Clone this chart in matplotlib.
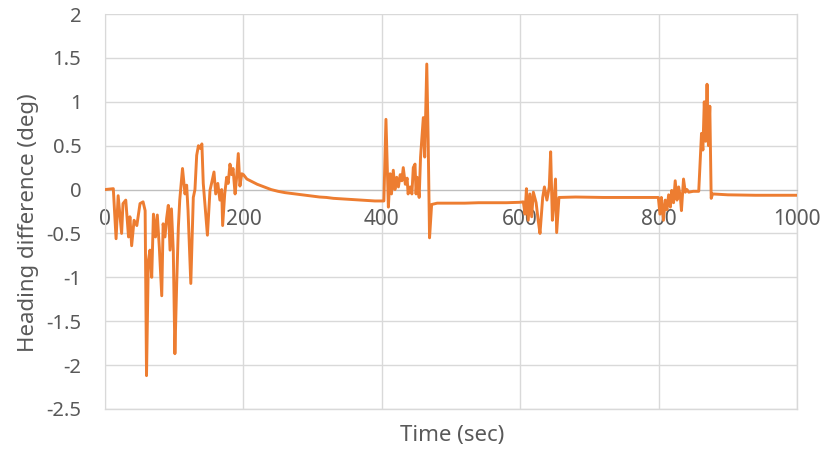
import matplotlib
matplotlib.use("Agg")
import matplotlib.pyplot as plt
import numpy as np

# ---- data ----
t_seg1 = [0, 12, 16, 19, 24, 26, 30, 34, 36, 38.5, 42, 46, 50.6, 55, 58, 60, 62.6, 65, 67.5,
          70, 73, 75.6, 78.5, 82, 84, 86.7, 89, 91.5, 94, 96, 98.7, 101, 103.6, 106, 108,
          112, 115.6, 118, 120, 124, 127.6, 130, 132.5, 135, 137.5, 140, 142, 148, 151.7,
          154, 157.5, 160, 163, 166, 168.6, 170, 173, 175.8, 178, 180.6, 183, 185, 188,
          190, 192.6, 195, 197.6, 200]
y_seg1 = [0.0, 0.01, -0.56, -0.07, -0.5, -0.16, -0.12, -0.54, -0.31, -0.64, -0.35, -0.41,
          -0.16, -0.14, -0.24, -2.12, -0.81, -0.69, -1.0, -0.28, -0.54, -0.29, -0.66, -1.21,
          -0.39, -0.54, -0.33, -0.18, -0.69, -0.22, -0.7, -1.87, -1.07, -0.43, -0.12, 0.24,
          -0.05, 0.05, -0.24, -1.07, -0.09, 0.0, 0.39, 0.5, 0.47, 0.52, 0.07, -0.52, -0.01,
          0.07, 0.2, -0.05, 0.07, -0.12, 0.0, -0.41, -0.05, 0.14, 0.07, 0.29, 0.17, 0.24,
          -0.05, 0.12, 0.41, 0.04, 0.18, 0.17]

t_seg2 = [205, 210, 220, 230, 240, 250, 260, 270, 280, 290, 300, 310, 320, 330, 340, 350,
          360, 370, 380, 390, 400]
y_seg2 = [0.12, 0.1, 0.06, 0.03, 0.0, -0.02, -0.035, -0.045, -0.055, -0.065, -0.075,
          -0.085, -0.09, -0.1, -0.105, -0.11, -0.115, -0.12, -0.125, -0.13, -0.13]

t_seg3 = [403, 406, 409.5, 412, 414, 416.6, 419, 421.5, 424, 426.6, 429, 431, 434, 436.6,
          438, 441, 443.5, 445.5, 448, 449.5, 451, 454, 456, 458.6, 460, 462, 465, 467,
          469, 472, 480, 500, 520, 540, 560, 580, 600]
y_seg3 = [-0.13, 0.8, -0.2, 0.18, -0.05, 0.22, 0.0, 0.14, 0.03, 0.17, 0.1, 0.25, 0.06,
          0.13, -0.05, 0.03, -0.05, 0.25, 0.29, -0.05, 0.14, -0.09, 0.37, 0.67, 0.82, 0.37,
          1.43, 0.56, -0.55, -0.17, -0.155, -0.155, -0.155, -0.15, -0.15, -0.15, -0.145]

t_seg4 = [604.5, 607, 609, 611.6, 614, 616.6, 619, 623, 626, 628.6, 632.5, 635, 638.6, 642,
          644, 646.5, 649, 651, 652.7, 656, 680, 720, 760, 799.6]
y_seg4 = [-0.14, -0.28, 0.01, -0.35, -0.05, -0.31, -0.03, -0.15, -0.35, -0.5, -0.09, 0.03,
          -0.12, 0.03, 0.43, -0.35, -0.12, 0.12, -0.49, -0.09, -0.085, -0.09, -0.09, -0.09]

t_seg5 = [802, 804, 807, 809.6, 812, 814.5, 817, 819, 821.6, 824, 826.6, 829, 831.5, 833,
          836, 838.6, 841, 843.5, 850, 858, 860, 862, 864, 866, 868, 870, 872, 874, 876,
          878, 900, 940, 970, 1000]
y_seg5 = [-0.28, -0.09, -0.35, -0.12, -0.23, -0.06, -0.2, -0.01, -0.15, 0.1, -0.12, 0.03,
          -0.09, -0.24, 0.12, -0.03, 0.0, -0.03, -0.02, -0.02, 0.3, 0.64, 0.45, 1.0, 0.55,
          1.2, 0.5, 0.95, -0.1, -0.05, -0.06, -0.065, -0.065, -0.065]

x_ticks = [0, 200, 400, 600, 800, 1000]
y_ticks = [-2.5, -2, -1.5, -1, -0.5, 0, 0.5, 1, 1.5, 2]
y_tick_labels = ["-2.5", "-2", "-1.5", "-1", "-0.5", "0", "0.5", "1", "1.5", "2"]

time = np.array(t_seg1 + t_seg2 + t_seg3 + t_seg4 + t_seg5)
heading = np.array(y_seg1 + y_seg2 + y_seg3 + y_seg4 + y_seg5)

# ---- styling ----
plt.rcParams['font.family'] = ['Noto Sans', 'DejaVu Sans']
text_color = '#595959'
grid_color = '#D9D9D9'

fig = plt.figure(figsize=(8.26, 4.54), dpi=100)
ax = fig.add_axes([105/826, 1-409/454, (797-105)/826, (409-14)/454])

ax.plot(time, heading, color='#ED7D31', lw=2.1, solid_joinstyle='round', zorder=3)

ax.set_xlim(0, 1000)
ax.set_ylim(-2.5, 2)
ax.set_xticks(x_ticks)
ax.set_yticks(y_ticks)
ax.set_yticklabels(y_tick_labels)

ax.grid(True, color=grid_color, lw=1.0, zorder=0)
ax.set_axisbelow(True)

for s in ['top', 'right']:
    ax.spines[s].set_visible(False)
ax.spines['left'].set_color(grid_color)
ax.spines['bottom'].set_position(('data', 0))
ax.spines['bottom'].set_color('#BFBFBF')

ax.axhline(-2.5, color=grid_color, lw=1.0, zorder=0, clip_on=False)
ax.axvline(1000, color=grid_color, lw=1.0, zorder=0, clip_on=False)

ax.tick_params(axis='both', length=0, labelcolor=text_color)
ax.tick_params(axis='x', pad=14, labelsize=15)
ax.tick_params(axis='y', pad=17, labelsize=14.5)

fig.text(452/826, 1-436/454, 'Time (sec)', fontsize=16, color=text_color,
         ha='center', va='center')
fig.text(29/826, 1-223/454, 'Heading difference (deg)', fontsize=16, color=text_color,
         ha='center', va='center', rotation=90)

fig.savefig('out.png', dpi=100)
